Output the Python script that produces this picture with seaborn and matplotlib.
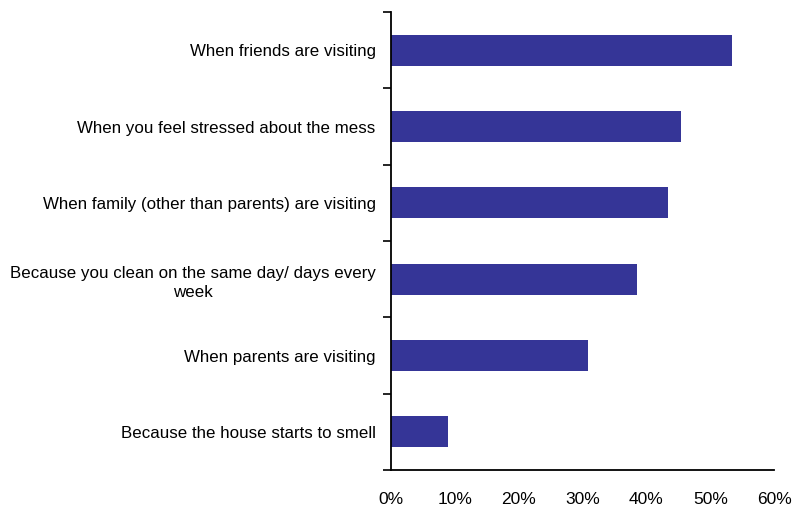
import matplotlib
matplotlib.use("Agg")
import matplotlib.pyplot as plt
import seaborn as sns
import pandas as pd
import numpy as np
from matplotlib.ticker import FixedLocator, PercentFormatter

reasons = [
    "When friends are visiting",
    "When you feel stressed about the mess",
    "When family (other than parents) are visiting",
    "Because you clean on the same day/ days every\nweek",
    "When parents are visiting",
    "Because the house starts to smell",
]
shares = [53.4, 45.4, 43.4, 38.6, 30.9, 8.9]
x_ticks = [0, 10, 20, 30, 40, 50, 60]

df = pd.DataFrame({"reason": reasons, "share": shares})

sns.set_theme(style="white")
plt.rcParams["font.family"] = ["Liberation Sans", "DejaVu Sans"]

fig = plt.figure(figsize=(7.94, 5.09), dpi=100)
ax = fig.add_axes([0.4924, 0.0766, 0.4826, 0.8998])

sns.barplot(data=df, x="share", y="reason", orient="h", color="#353597",
            saturation=1, width=0.41, linewidth=0, ax=ax)

ax.set_xlim(0, 60)
ax.set_ylim(len(reasons) - 0.5, -0.5)
ax.xaxis.set_major_locator(FixedLocator(x_ticks))
ax.xaxis.set_major_formatter(PercentFormatter(decimals=0))
ax.set_xlabel("")
ax.set_ylabel("")

for side in ["top", "right"]:
    ax.spines[side].set_visible(False)
for side in ["left", "bottom"]:
    ax.spines[side].set_color("black")
    ax.spines[side].set_linewidth(1.3)

ax.tick_params(axis="x", length=0, pad=16, labelsize=12.5, colors="black")
ax.tick_params(axis="y", which="major", length=0, pad=11, labelsize=12.2,
               colors="black")
ax.yaxis.set_minor_locator(FixedLocator(np.arange(-0.5, len(reasons), 1.0)))
ax.tick_params(axis="y", which="minor", left=True, length=6, width=1.2,
               color="black", direction="out")
for lbl in ax.get_yticklabels():
    lbl.set_multialignment("center")
    lbl.set_linespacing(1.35)

fig.savefig("out.png", dpi=100, facecolor="white")
